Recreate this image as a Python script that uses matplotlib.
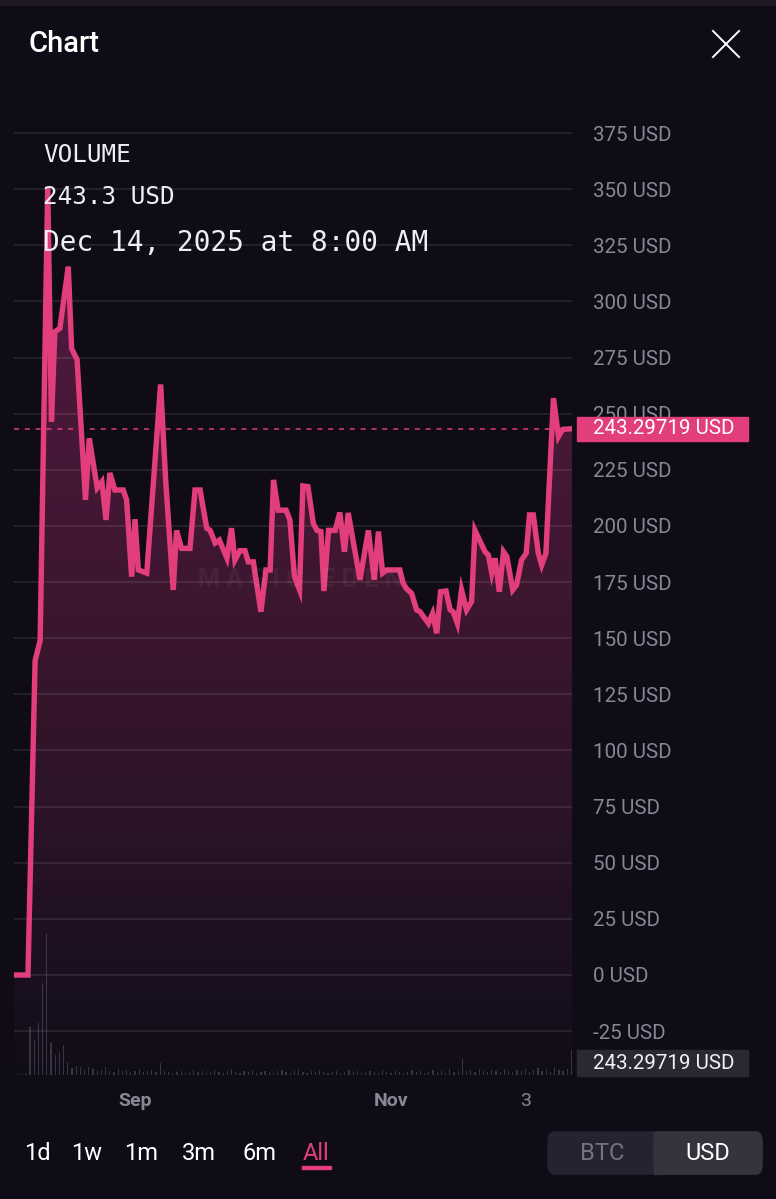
import numpy as np
import pandas as pd
import matplotlib
matplotlib.use('Agg')
import matplotlib.pyplot as plt
import matplotlib.dates as mdates
import matplotlib.transforms as mtransforms
from matplotlib.patches import Rectangle, FancyBboxPatch
from matplotlib.lines import Line2D
from matplotlib.colors import LinearSegmentedColormap

plt.rcParams['font.family'] = ['Roboto', 'DejaVu Sans']

# price line, days counted from Sep 1, 2025
START = pd.Timestamp('2025-09-01')
price_days = [-28.8, -25.5, -23.8, -22.6, -20.8, -19.9, -19.1, -17.9, -15.9, -15.1,
              -13.8, -11.8, -10.9, -9.0, -7.9, -6.9, -6.0, -4.8, -2.8, -2.0,
              -0.8, 0.0, 0.8, 2.8, 6.1, 7.3, 9.1, 9.9, 11.1, 13.1,
              14.3, 15.5, 17.1, 17.9, 19.1, 20.1, 21.9, 23.0, 23.8, 25.0,
              26.2, 27.0, 28.2, 30.0, 31.2, 32.2, 33.0, 34.1, 36.0, 36.9,
              38.0, 39.2, 40.0, 41.2, 42.5, 43.4, 44.3, 45.0, 46.1, 47.7,
              48.8, 49.9, 50.8, 53.6, 55.6, 57.0, 58.0, 59.0, 60.0, 63.1,
              63.9, 64.7, 65.9, 67.1, 67.9, 69.9, 70.9, 71.9, 72.8, 74.1,
              75.1, 75.8, 76.8, 77.8, 79.0, 80.2, 81.0, 83.4, 84.2, 85.0,
              85.8, 86.8, 87.8, 88.6, 90.0, 90.9, 92.1, 93.2, 94.0, 94.9,
              96.1, 96.9, 97.9, 99.7, 100.9, 101.9, 104.1]
price_usd = [0, 0, 140, 149, 351, 246.5, 286.5, 288, 315.5, 279,
             274, 211.6, 239, 217, 219.7, 202.7, 223.6, 216, 216, 211.6,
             177.4, 203, 180.4, 179, 263, 220.5, 171.5, 198, 190, 190,
             216, 216, 199, 198, 192.4, 193.7, 185.7, 199, 184.8, 189,
             189, 184, 184, 161.8, 180.4, 180.4, 220.5, 207, 207, 202.7,
             177.4, 171.5, 217.8, 217.5, 201, 198, 197.5, 171, 198, 198,
             206, 188.5, 205.8, 176, 198, 176, 197.5, 179, 180.4, 180.4,
             174.5, 172, 170, 162.6, 161.8, 156.6, 161, 152.2, 170.7, 171,
             162.6, 161.8, 156.6, 171.5, 162.6, 166.3, 198, 188.5, 187, 179,
             185.6, 170.7, 188.5, 186.3, 171.5, 173.7, 184.8, 187.8, 204.9, 204.9,
             187.8, 182.6, 187.8, 256.9, 239.8, 243, 243.3]

# daily volume bars (relative units), Aug 4 .. Dec 14
volume = [1, 1, 1, 48, 35, 52, 92, 142, 32, 20, 23, 30, 13,
          7, 9, 8, 5, 8, 6, 4, 5, 8, 4, 3, 6, 4, 5, 3,
          4, 6, 3, 4, 5, 3, 12, 4, 3, 2, 3, 4, 2, 3, 5, 3,
          4, 2, 3, 5, 3, 2, 4, 6, 3, 2, 4, 3, 5, 2, 3, 4,
          3, 2, 4, 5, 3, 2, 4, 6, 3, 2, 4, 3, 5, 3, 2, 3,
          4, 2, 3, 5, 3, 4, 2, 3, 4, 3, 2, 5, 3, 2, 4, 3,
          2, 3, 5, 3, 4, 2, 3, 5, 3, 4, 2, 6, 3, 4, 16, 4,
          5, 3, 6, 4, 3, 5, 4, 3, 6, 4, 3, 5, 4, 6, 3, 5,
          7, 4, 6, 3, 8, 5, 4, 6, 25]
volume_days = list(range(-28, -28 + len(volume)))

last_price = 243.29719
y_ticks = list(range(-25, 400, 25))
x_ticks = ['2025-09-01', '2025-11-01', '2025-12-03']
x_labels = ['Sep', 'Nov', '3']
ranges = ['1d', '1w', '1m', '3m', '6m', 'All']

BG = '#0f0c17'
PINK = '#e23e7c'
GRAY = '#8a8694'

W, H = 776, 1199
def fx(px):
    return px / W
def fy(py):
    return 1 - py / H

fig = plt.figure(figsize=(W / 100, H / 100), dpi=100, facecolor=BG)
ax = fig.add_axes([fx(14), fy(1075), (572 - 14) / W, (1075 - 100) / H])
ax.set_facecolor(BG)

# volume pane shares the x axis (created first so the price ticks stay right)
ax2 = ax.twinx()

x = mdates.date2num((START + pd.to_timedelta(price_days, unit='D')).to_pydatetime())
vx = mdates.date2num((START + pd.to_timedelta(volume_days, unit='D')).to_pydatetime())
x0 = mdates.date2num(START.to_pydatetime()) - 28.83
x1 = mdates.date2num(START.to_pydatetime()) + 104.12
ymin, ymax = -44.54, 389.7

# gradient fill under the line
poly = ax.fill_between(x, price_usd, ymin, color='none', lw=0)
grad = np.linspace(0, 1, 256).reshape(-1, 1)
cmap = LinearSegmentedColormap.from_list(
    'fill', [(0, '#110d18'), (0.11, '#1b1020'), (0.30, '#2d1428'),
             (0.52, '#3d1630'), (1.0, '#571a43')])
im = ax.imshow(grad, extent=[x0, x1, ymin, 360], origin='lower', aspect='auto',
               cmap=cmap, zorder=1)
im.set_clip_path(poly.get_paths()[0], transform=ax.transData)

ax.plot(x, price_usd, color=PINK, lw=3.9, solid_joinstyle='miter', zorder=3)
ax.axhline(last_price, color=PINK, lw=1.2, dashes=(3, 3.5), alpha=0.9, zorder=2)

ax.set_xlim(x0, x1)
ax.set_ylim(ymin, ymax)
ax.set_yticks(y_ticks)
ax.set_yticklabels([f'{v} USD' for v in y_ticks])
ax.yaxis.set_ticks_position('right')
ax.grid(axis='y', color='white', alpha=0.1, lw=1.2)
ax.tick_params(axis='y', which='both', left=False, right=False, labelleft=False,
               labelright=True, pad=11.5, labelsize=14.8, labelcolor=GRAY)
ax.set_xticks(mdates.date2num(pd.to_datetime(x_ticks).to_pydatetime()))
ax.set_xticklabels(x_labels)
ax.tick_params(axis='x', length=0, pad=12, labelsize=14, labelcolor=GRAY)
for lbl in ax.get_xticklabels()[:2]:
    lbl.set_fontweight('bold')
for s in ax.spines.values():
    s.set_visible(False)

# price tag on the right
tr = mtransforms.blended_transform_factory(ax.transAxes, ax.transData)
box_h = 24 * 25 / 56.13
ax.add_patch(Rectangle((1.009, last_price - box_h / 2), 0.3065, box_h, transform=tr,
                       color=PINK, clip_on=False, zorder=10))
ax.text(1.0376, last_price, f'{last_price} USD', transform=tr, color='white',
        fontsize=14.8, va='center', ha='left', zorder=11, clip_on=False)
vol_c = -39.2
box_h2 = 26 * 25 / 56.13
ax.add_patch(Rectangle((1.009, vol_c - box_h2 / 2), 0.3065, box_h2, transform=tr,
                       color='#2b2834', clip_on=False, zorder=10))
ax.text(1.0376, vol_c, f'{last_price} USD', transform=tr, color='#f2f0f5',
        fontsize=14.8, va='center', ha='left', zorder=11, clip_on=False)

# volume bars
ax2.bar(vx, volume, width=0.3, color='#6a6474', alpha=0.45, zorder=2)
ax2.set_ylim(0, 975)
ax2.set_xlim(x0, x1)
ax2.axis('off')

# watermark
fig.text(fx(300), fy(580), 'M A G I C   E D E N', color='white', alpha=0.05,
         fontsize=18, ha='center', va='center', fontweight='bold')

# overlay texts
mono = 'DejaVu Sans Mono'
fig.text(fx(43), fy(155), 'VOLUME', family=mono, fontsize=17.5, color='#f0eef2',
         va='center', ha='left', zorder=20)
fig.text(fx(43), fy(197), '243.3 USD', family=mono, fontsize=17.5, color='#f0eef2',
         va='center', ha='left', zorder=20)
fig.text(fx(43), fy(243), 'Dec 14, 2025 at 8:00 AM', family=mono, fontsize=20,
         color='#f0eef2', va='center', ha='left', zorder=20)

# header
fig.patches.append(Rectangle((0, fy(5)), 1, 5 / H, transform=fig.transFigure,
                             color='#1d1824', zorder=0))
fig.text(fx(29), fy(44), 'Chart', fontsize=21, fontweight='medium', color='white',
         va='center', ha='left')
fig.add_artist(Line2D([fx(713), fx(739)], [fy(31), fy(57)], color='white', lw=1.4))
fig.add_artist(Line2D([fx(739), fx(713)], [fy(31), fy(57)], color='white', lw=1.4))

# range buttons
centers = [37, 87, 141, 199, 259, 316]
for lbl, cx in zip(ranges, centers):
    fig.text(fx(cx), fy(1153), lbl, fontsize=17, color=PINK if lbl == 'All' else 'white',
             ha='center', va='center')
fig.patches.append(Rectangle((fx(302), fy(1169)), (331 - 302) / W, 3 / H,
                             transform=fig.transFigure, color=PINK))

# currency toggle
fig.patches.append(FancyBboxPatch((fx(548), fy(1174)), (762 - 548) / W, 42 / H,
                                  boxstyle='round,pad=0,rounding_size=0.008',
                                  transform=fig.transFigure, color='#262330'))
fig.patches.append(FancyBboxPatch((fx(654), fy(1174)), (762 - 654) / W, 42 / H,
                                  boxstyle='round,pad=0,rounding_size=0.008',
                                  transform=fig.transFigure, color='#36333f'))
fig.patches.append(Rectangle((fx(654), fy(1174)), 10 / W, 42 / H,
                             transform=fig.transFigure, color='#36333f'))
fig.text(fx(602), fy(1153), 'BTC', fontsize=17, color='#76727e', ha='center', va='center')
fig.text(fx(708), fy(1153), 'USD', fontsize=17, color='white', ha='center', va='center')

fig.savefig('out.png', dpi=100, facecolor=BG)
